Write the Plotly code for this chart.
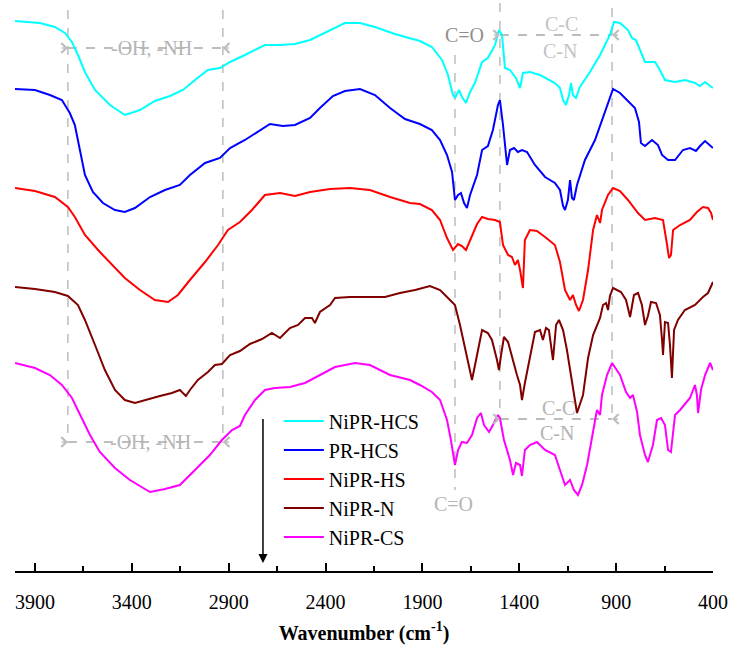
import plotly.graph_objects as go

# ---- data: wavenumber (cm-1) and stacked-offset intensity (a.u., inverted scale) ----
nipr_hcs_w = [4003,3874,3797,3745,3709,3678,3642,3590,3513,3436,3358,3281,3203,3136,3074,3007,2945,2893,2816,2713,2635,2558,2480,2403,2300,2222,2145,2042,1964,
              1913,1851,1799,1768,1742,1732,1711,1696,1675,1654,1629,1592,1562,1525,1505,1489,1474,1448,1417,1396,1381,1345,1293,1216,1190,1174,1159,1143,1133,1123,1107,1087,1035,983,932,911,880,839,818,798,777,751,699,674,648,596,545,493,467,441,415,400]
nipr_hcs_y = [21,23,27,33,42,55,72,90,105,115,110,101,96,90,80,70,68,62,55,45,45,44,40,33,23,23,27,34,38,
              41,47,60,75,95,98,90,97,103,92,83,62,58,45,30,35,68,70,78,88,73,72,75,83,88,100,105,95,83,95,98,87,72,55,35,22,23,30,38,40,50,62,62,70,80,82,80,83,86,82,86,88]

pr_hcs_w = [4003,3900,3823,3761,3720,3694,3668,3642,3601,3549,3487,3436,3384,3306,3229,3152,3100,3022,2945,2893,2816,2749,2687,2620,2558,2480,2429,2362,2300,2222,2145,2067,1990,1913,
            1851,1809,1773,1747,1732,1716,1701,1685,1670,1654,1618,1592,1562,1536,1510,1500,1484,1463,1448,1427,1407,1386,1360,1319,1267,1216,1190,1174,1164,1149,1138,1128,1118,1102,1061,1009,968,932,916,880,839,803,782,772,751,715,684,663,632,596,555,519,488,467,441,415,400]
pr_hcs_y = [89,90,95,100,113,125,150,175,192,203,210,212,208,197,190,185,175,163,158,148,140,132,124,126,125,118,108,96,91,89,95,108,119,124,
            130,140,155,172,200,195,193,203,208,195,175,150,146,130,105,100,125,165,150,148,152,150,152,165,177,183,190,206,210,200,180,198,200,185,160,140,117,97,89,93,101,108,122,143,146,140,145,155,160,160,150,148,151,146,141,146,148]

nipr_hs_w = [4003,3900,3797,3730,3694,3642,3565,3487,3436,3358,3281,3213,3162,3100,3022,2955,2904,2842,2780,2713,2635,2558,2480,2377,2274,2171,2067,1964,
             1913,1851,1809,1773,1742,1716,1696,1675,1654,1618,1592,1562,1525,1500,1484,1458,1438,1422,1407,1396,1381,1371,1345,1309,1267,1216,1190,1164,1138,1123,1107,1092,1071,1045,1019,999,983,973,942,916,880,839,787,751,699,658,637,627,617,606,570,519,483,452,426,410,400]
nipr_hs_y = [188,191,197,207,217,235,252,268,278,290,300,302,295,280,262,245,230,222,210,195,193,196,192,189,188,190,197,203,
             204,210,220,238,250,244,246,250,240,224,217,219,220,222,245,255,257,265,260,270,288,240,230,231,237,245,262,290,300,295,305,311,300,270,230,215,223,210,195,188,191,200,213,220,218,220,245,258,255,230,225,220,212,207,208,213,220]

nipr_n_w = [4003,3900,3797,3730,3678,3642,3590,3539,3487,3436,3384,3332,3255,3193,3152,3121,3100,3059,3007,2971,2935,2893,2842,2790,2728,2677,2635,2584,2542,2506,2470,2455,2429,2377,2351,2274,2171,2093,2016,1938,1861,
            1809,1773,1732,1706,1680,1654,1644,1618,1592,1562,1541,1515,1505,1494,1479,1458,1438,1412,1396,1386,1371,1345,1319,1293,1278,1262,1247,1226,1210,1195,1174,1154,1128,1102,1071,1045,1019,999,983,968,952,942,932,916,896,875,849,828,808,787,767,751,736,720,694,674,663,658,648,632,622,612,601,581,545,493,452,426,400]
nipr_n_y = [287,289,292,296,305,320,345,370,390,400,403,400,396,393,390,396,390,380,372,365,364,355,351,344,339,333,338,328,325,318,318,323,312,305,298,297,297,297,293,290,286,
            290,297,305,325,348,370,380,355,330,333,340,360,370,355,337,342,357,375,385,400,383,357,332,330,340,328,330,360,325,320,330,350,380,413,395,358,335,325,318,305,303,310,296,288,290,292,300,317,295,293,305,325,316,302,303,315,340,355,322,323,345,378,330,320,310,305,297,293,282]

nipr_cs_w = [4003,3900,3823,3761,3709,3668,3616,3565,3487,3410,3306,3229,3152,3074,2997,2935,2883,2842,2816,2764,2713,2661,2584,2506,2429,2351,2248,2171,2067,1964,
             1913,1851,1809,1773,1753,1732,1716,1696,1670,1644,1618,1598,1582,1556,1536,1510,1500,1479,1448,1432,1417,1396,1386,1371,1345,1309,1267,1216,1190,1164,1138,1118,1097,1076,1050,1019,999,983,973,947,921,880,849,828,813,792,777,751,736,710,689,668,648,632,617,596,570,519,493,483,477,462,441,415,400]
nipr_cs_y = [363,368,375,385,398,415,435,452,468,480,492,489,485,470,455,440,430,426,415,400,390,388,387,383,375,367,363,365,375,380,
             385,392,400,420,440,465,450,442,443,435,418,413,425,432,425,415,418,440,460,475,463,465,476,450,445,442,450,455,470,485,480,490,495,485,465,430,410,415,395,375,363,375,392,398,395,412,435,455,462,445,420,418,425,450,452,415,410,398,385,395,413,390,375,363,370]

series_names = ["NiPR-HCS", "PR-HCS", "NiPR-HS", "NiPR-N", "NiPR-CS"]
series_colors = ["#00ffff", "#0000ff", "#ff0000", "#800000", "#ff00ff"]
series_w = [nipr_hcs_w, pr_hcs_w, nipr_hs_w, nipr_n_w, nipr_cs_w]
series_y = [nipr_hcs_y, pr_hcs_y, nipr_hs_y, nipr_n_y, nipr_cs_y]

# band marker positions (cm-1) with vertical extents
band_lines = [(3730, 10, 443), (2930, 10, 443), (1732, 55, 490), (1500, 3, 417), (921, 8, 422)]
tick_vals = [3900, 3400, 2900, 2400, 1900, 1400, 900, 400]

FONT = "'Liberation Serif', 'Times New Roman', serif"
GRAY = "#b4b4b4"
DASH = "#bdbdbd"

fig = go.Figure()
for name, col, w, y in zip(series_names, series_colors, series_w, series_y):
    fig.add_trace(go.Scatter(x=w, y=y, mode="lines", name=name, legendgroup=name,
                             line=dict(color=col, width=2)))

for (wx, y0, y1) in band_lines:
    fig.add_shape(type="line", x0=wx, x1=wx, y0=y0, y1=y1, xref="x", yref="y",
                  line=dict(color=DASH, width=1.5, dash="dash"), layer="below")

# horizontal dashed range markers with open arrowheads at both ends
ranges = [(3730, 2930, 48), (3730, 2930, 442), (1500, 921, 35), (1500, 921, 419)]
for (a, b, yy) in ranges:
    fig.add_shape(type="line", x0=a, x1=b, y0=yy, y1=yy, xref="x", yref="y",
                  line=dict(color=DASH, width=2, dash="dash"), layer="below")
    fig.add_annotation(x=a, y=yy, ax=-10, ay=0, xref="x", yref="y",
                       text=" ", showarrow=True, arrowhead=4, arrowsize=1.3, arrowwidth=1.5, arrowcolor=DASH)
    fig.add_annotation(x=b, y=yy, ax=10, ay=0, xref="x", yref="y",
                       text=" ", showarrow=True, arrowhead=4, arrowsize=1.3, arrowwidth=1.5, arrowcolor=DASH)

labels = [("-OH, -NH", 3296, 48, GRAY), ("-OH, -NH", 3306, 442, GRAY),
          ("C=O", 1685, 35, "#8f8f8f"), ("C=O", 1737, 504, GRAY),
          ("C-C", 1180, 24, "#c4c4c4"), ("C-N", 1190, 51, "#c4c4c4"),
          ("C-C", 1200, 408, GRAY), ("C-N", 1205, 433, GRAY)]
for (t, xx, yy, c) in labels:
    fig.add_annotation(x=xx, y=yy, text=t, showarrow=False, xref="x", yref="y",
                       font=dict(family=FONT, size=20, color=c))

# black arrow
fig.add_annotation(x=2723, y=563, ax=2723, ay=407, xref="x", yref="y", axref="x", ayref="y",
                   text=" ", showarrow=True, arrowhead=2, arrowsize=1.2, arrowwidth=1.5, arrowcolor="black")

fig.update_layout(
    width=730, height=647,
    margin=dict(l=15, r=17, t=0, b=76),
    paper_bgcolor="white", plot_bgcolor="white",
    font=dict(family=FONT, color="black", size=19),
    showlegend=True,
    legend=dict(x=0.378, y=0.297, xanchor="left", yanchor="top", bgcolor="rgba(0,0,0,0)",
                font=dict(family=FONT, size=20, color="black"), itemwidth=40, tracegroupgap=0),
    xaxis=dict(range=[4003, 400], showgrid=False, zeroline=False,
               showline=True, linecolor="black", linewidth=1.5,
               ticks="inside", ticklen=8, tickwidth=1.5, tickcolor="black",
               tickvals=tick_vals, ticklabelstandoff=12,
               tickfont=dict(family=FONT, size=20, color="black"),
               minor=dict(ticks="inside", ticklen=5, tickwidth=1.5, tickcolor="black", dtick=250, tick0=400),
               title=dict(text="<b>Wavenumber (cm<sup>-1</sup>)</b>", font=dict(family=FONT, size=20), standoff=14)),
    yaxis=dict(range=[571, 0], visible=False, showgrid=False, zeroline=False),
)

fig.write_html("out.html")
